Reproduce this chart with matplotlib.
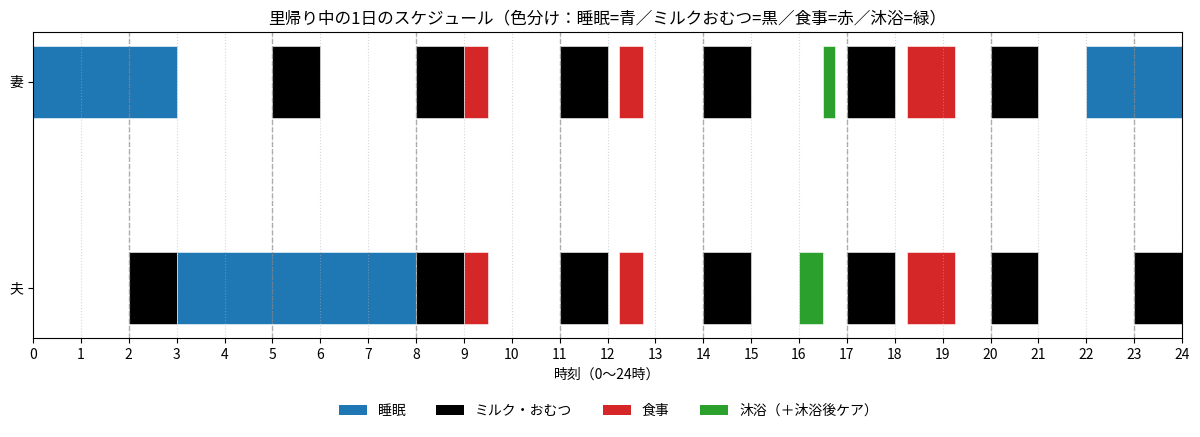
import matplotlib
matplotlib.use("Agg")
from matplotlib import pyplot as plt
from matplotlib.patches import Patch

plt.rcParams['font.family'] = ['Noto Sans CJK JP', 'DejaVu Sans']

people = ["夫", "妻"]
categories = ["睡眠", "ミルク・おむつ", "食事", "沐浴（＋沐浴後ケア）"]
colors = ["#1f77b4", "black", "#d62728", "#2ca02c"]

# (start, end, category index)
wife = [(0, 3, 0), (5, 6, 1), (8, 9, 1), (9, 9.5, 2), (11, 12, 1), (12.25, 12.75, 2),
        (14, 15, 1), (16.5, 16.75, 3), (17, 18, 1), (18.25, 19.25, 2), (20, 21, 1), (22, 24, 0)]
husband = [(2, 3, 1), (3, 8, 0), (8, 9, 1), (9, 9.5, 2), (11, 12, 1), (12.25, 12.75, 2),
           (14, 15, 1), (16, 16.5, 3), (17, 18, 1), (18.25, 19.25, 2), (20, 21, 1), (23, 24, 1)]
milk_times = [2, 5, 8, 11, 14, 17, 20, 23]

fig, ax = plt.subplots(figsize=(12, 4.37), dpi=100)
fig.subplots_adjust(left=0.0275, right=0.985, top=0.927, bottom=0.2265)

for row, segs in enumerate([husband, wife]):
    for s, e, c in segs:
        ax.barh(row, e - s, left=s, height=0.35, color=colors[c],
                edgecolor="white", linewidth=0.4)

ax.set_yticks([0, 1])
ax.set_yticklabels(people)
ax.set_xlim(0, 24)
ax.set_xticks(range(0, 25))
ax.grid(axis="x", linestyle=":", alpha=0.5)
for t in milk_times:
    ax.axvline(t, color="gray", linestyle="--", linewidth=1, alpha=0.6)

ax.set_xlabel("時刻（0〜24時）")
ax.set_title("里帰り中の1日のスケジュール（色分け：睡眠=青／ミルクおむつ=黒／食事=赤／沐浴=緑）")

handles = [Patch(facecolor=col, label=lab) for col, lab in zip(colors, categories)]
fig.legend(handles=handles, loc="center", bbox_to_anchor=(0.507, 0.06), ncol=4,
           frameon=False, columnspacing=2.2)

fig.savefig("out.png", dpi=100)
